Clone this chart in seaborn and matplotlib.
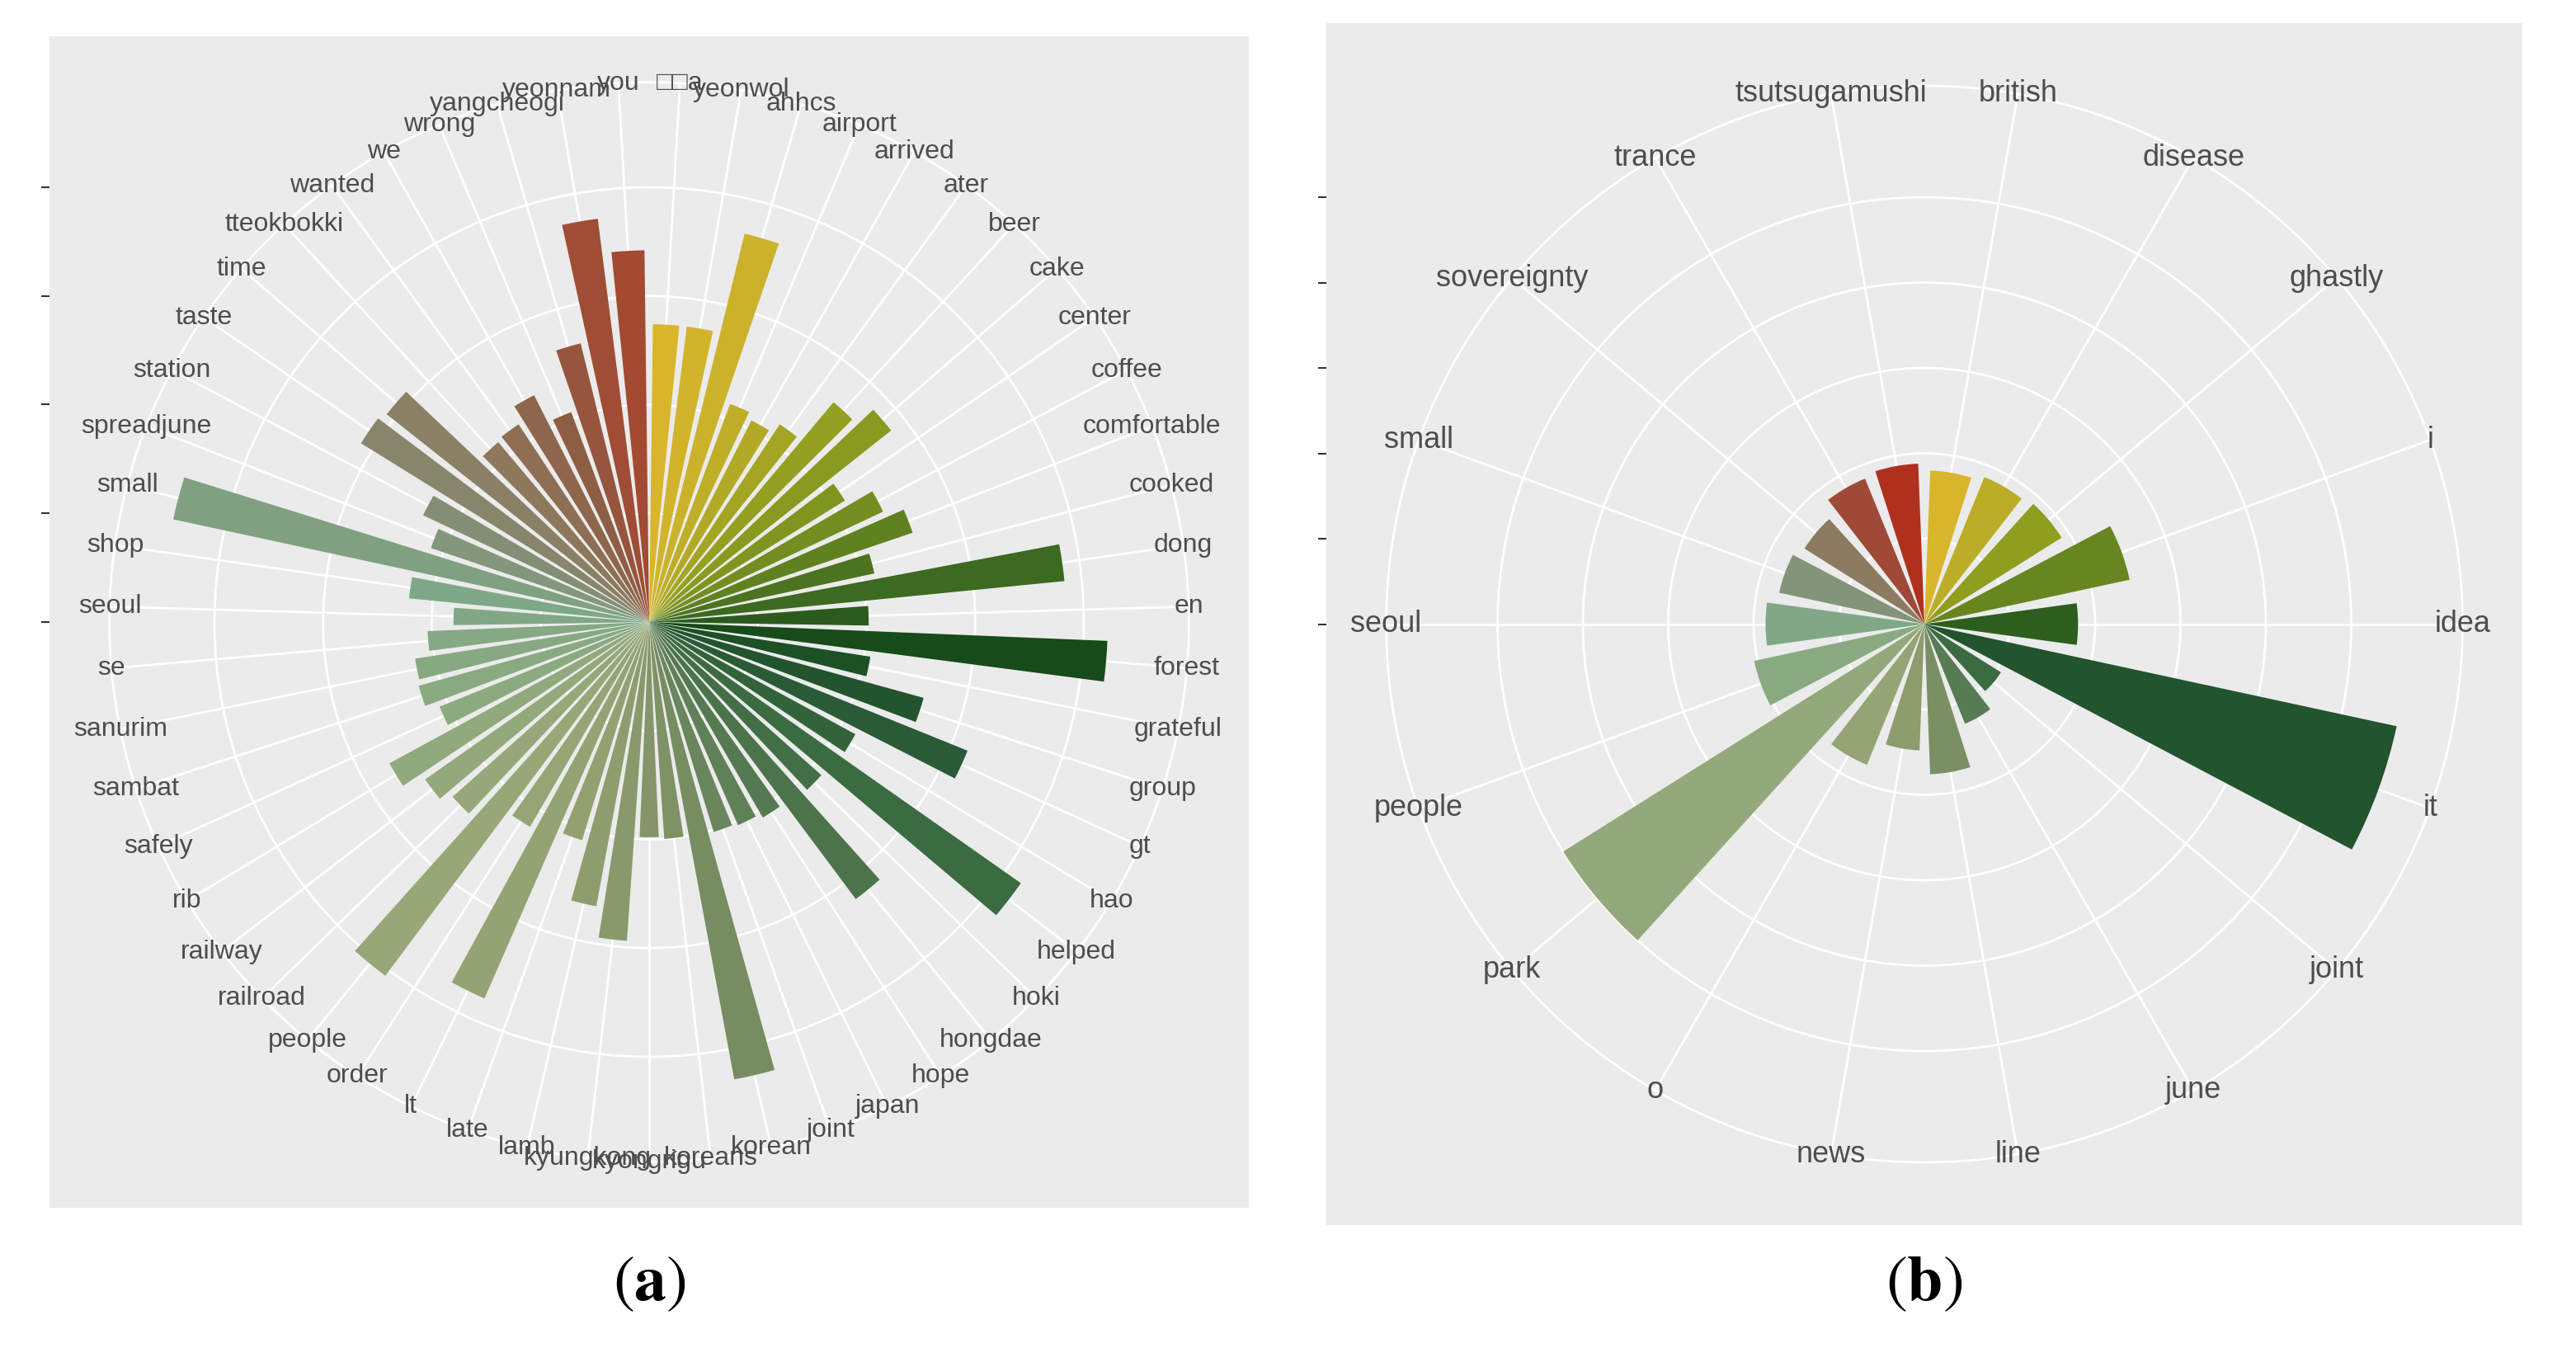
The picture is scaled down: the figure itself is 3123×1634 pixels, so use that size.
import numpy as np
import matplotlib
matplotlib.use("Agg")
import matplotlib.pyplot as plt
import seaborn as sns
from matplotlib.colors import LinearSegmentedColormap

# word frequencies, panel (a) - clockwise from the top
words_a = ["\u25a1\u25a1a", "yeonwol", "ahhcs", "airport", "arrived", "ater", "beer",
           "cake", "center", "coffee", "comfortable", "cooked", "dong", "en", "forest",
           "grateful", "group", "gt", "hao", "helped", "hoki", "hongdae", "hope", "japan",
           "joint", "korean", "koreans", "kyongrigu", "kyungkong", "lamb", "late", "lt",
           "order", "people", "railroad", "railway", "rib", "safely", "sambat", "sanurim",
           "se", "seoul", "shop", "small", "spreadjune", "station", "taste", "time",
           "tteokbokki", "wanted", "we", "wrong", "yangcheogi", "yeonnam", "you"]
counts_a = [13.7, 13.7, 18.4, 10.7, 10.4, 10.9, 13.2, 14.2, 10.6, 11.9, 12.8, 10.6,
            19.2, 10.1, 21.1, 10.3, 13.1, 15.8, 10.8, 20.9, 10.6, 15.9, 10.4, 10.2,
            10.1, 21.4, 10.0, 9.9, 14.7, 13.3, 10.5, 18.9, 10.9, 20.3, 12.1, 12.6,
            13.6, 10.4, 11.0, 10.9, 10.2, 9.0, 11.1, 22.4, 10.6, 11.5, 15.6, 15.4,
            10.8, 10.9, 11.7, 10.3, 13.2, 18.7, 17.1]
breaks_a = [0, 5, 10, 15, 20]

# panel (b)
words_b = ["british", "disease", "ghastly", "i", "idea", "it", "joint", "june", "line",
           "news", "o", "park", "people", "seoul", "small", "sovereignty", "trance",
           "tsutsugamushi"]
counts_b = [9.0, 9.3, 9.5, 12.3, 9.0, 28.3, 5.3, 6.3, 8.8, 7.4, 8.9, 25.0, 10.2, 9.3,
            8.7, 8.3, 9.2, 9.4]
breaks_b = [0, 5, 10, 15, 20, 25]

captions = ["a", "b"]

sns.set_theme(style="darkgrid")
plt.rcParams["font.family"] = ["Liberation Sans", "DejaVu Sans"]
plt.rcParams["mathtext.fontset"] = "stix"

# yellow -> green -> sage -> brown ramp shared by both panels, red tail differs a bit
ramp_body = [
    (0.00, "#D8B52A"), (0.04, "#C9B22A"), (0.11, "#94A020"), (0.16, "#789020"),
    (0.22, "#3C6A20"), (0.26, "#164A1A"), (0.30, "#245632"), (0.35, "#3A6A40"),
    (0.41, "#567A52"), (0.47, "#7A9064"), (0.55, "#92A070"), (0.62, "#98A878"),
    (0.70, "#8AAA80"), (0.78, "#7EA888"), (0.84, "#858C72"), (0.90, "#8E7458")]
ramp_a = LinearSegmentedColormap.from_list(
    "words_a", ramp_body + [(0.95, "#8E5C42"), (0.98, "#9E4E36"), (1.00, "#A24A32")])
ramp_b = LinearSegmentedColormap.from_list(
    "words_b", ramp_body + [(0.94, "#A04A38"), (1.00, "#B0301E")])

FIG_W, FIG_H = 3123, 1634
fig = plt.figure(figsize=(FIG_W / 100, FIG_H / 100), dpi=100)
fig.patch.set_facecolor("white")


def px_rect(x0, y0, x1, y1):
    # pixel box measured from the top-left corner -> figure fraction
    return [x0 / FIG_W, 1 - y1 / FIG_H, (x1 - x0) / FIG_W, (y1 - y0) / FIG_H]


def word_panel(box, words, counts, breaks, ppu, fsize, cap, ramp):
    x0, y0, x1, y1 = box
    cx, cy = (x0 + x1) / 2, (y0 + y1) / 2

    # grey ggplot-like panel with the radial axis ticks on its left side
    bg = fig.add_axes(px_rect(*box))
    bg.set_facecolor("#EBEBEB")
    bg.set_xlim(0, 1)
    bg.set_ylim(-(y1 - cy) / ppu, (cy - y0) / ppu)
    bg.set_xticks([])
    bg.set_yticks(breaks)
    bg.set_yticklabels([])
    bg.tick_params(axis="y", left=True, length=7, width=1.5, color="#333333", direction="out")
    bg.grid(False)
    for s in bg.spines.values():
        s.set_visible(False)

    R = 0.45 * (x1 - x0)  # theta labels sit on the 0.45 circle
    rmax = R / ppu
    ax = fig.add_axes(px_rect(cx - R, cy - R, cx + R, cy + R), projection="polar")
    ax.set_facecolor("none")
    ax.set_theta_zero_location("N")
    ax.set_theta_direction(-1)

    n = len(words)
    theta = (np.arange(n) + 0.5) * 2 * np.pi / n
    ax.bar(theta, counts, width=0.78 * 2 * np.pi / n, color=ramp(np.linspace(0, 1, n)),
           linewidth=0, zorder=2)
    ax.set_ylim(0, rmax)
    ax.set_xticks(theta)
    ax.set_xticklabels([])
    ax.set_yticks(breaks[1:])
    ax.set_yticklabels([])
    ax.grid(True, color="white", linewidth=2)
    ax.spines["polar"].set_color("white")
    ax.spines["polar"].set_linewidth(2)

    for t, w in zip(theta, words):
        ax.text(t, rmax, w, ha="center", va="center", fontsize=fsize, color="#4D4D4D",
                zorder=5)

    fig.text(cx / FIG_W, 1 - 1556 / FIG_H, r"$(\mathbf{" + cap + "})$", fontsize=56,
             ha="center", va="center", color="black")


word_panel((60, 44, 1514, 1464), words_a, counts_a, breaks_a, 26.35, 23, captions[0], ramp_a)
word_panel((1608, 28, 3058, 1485), words_b, counts_b, breaks_b, 20.7, 26, captions[1], ramp_b)

fig.savefig("out.png", dpi=100)
